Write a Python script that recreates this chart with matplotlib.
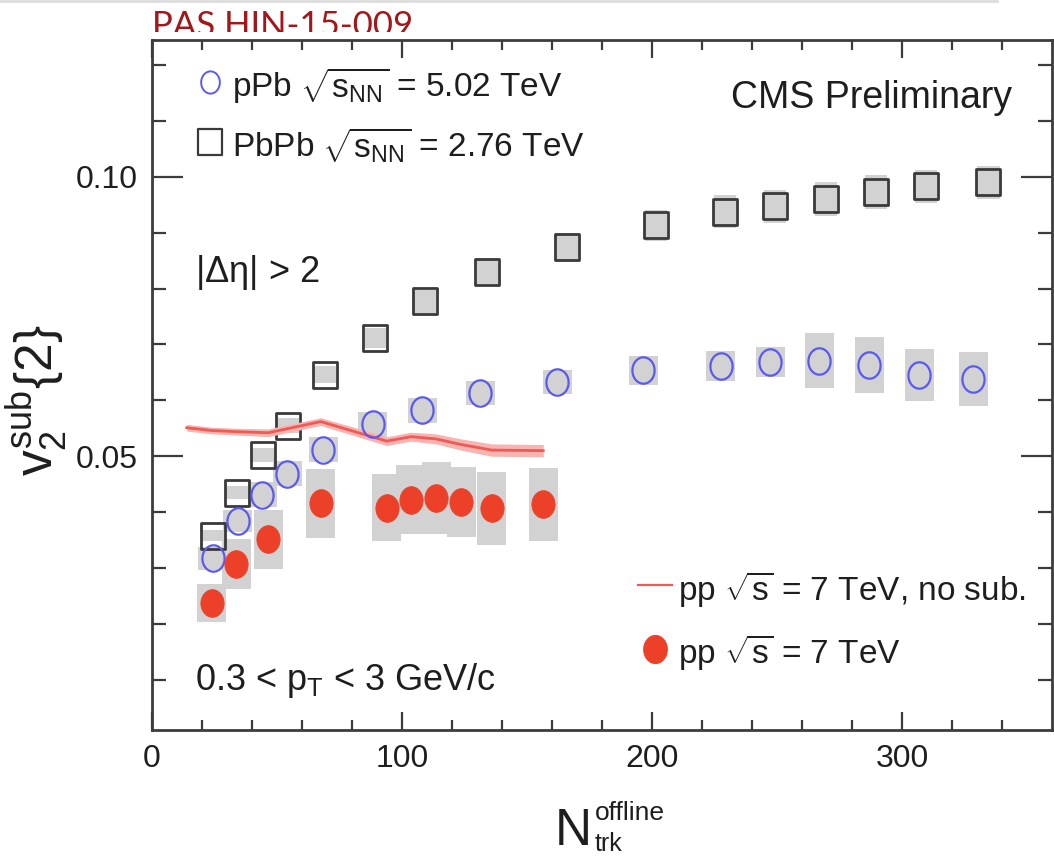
import numpy as np
import matplotlib
matplotlib.use("Agg")
import matplotlib.pyplot as plt
from matplotlib.path import Path
from matplotlib.lines import Line2D
from matplotlib.transforms import Bbox

plt.rcParams['font.family'] = ['Liberation Sans', 'DejaVu Sans']
plt.rcParams['mathtext.fontset'] = 'custom'
plt.rcParams['mathtext.rm'] = 'Liberation Sans'
plt.rcParams['mathtext.it'] = 'Liberation Sans'
plt.rcParams['mathtext.sf'] = 'Liberation Sans'
plt.rcParams['mathtext.bf'] = 'Liberation Sans:bold'

TXT = '#1e1e1e'
GREY_SYS = '#d2d2d2'
BLUE = '#5a5af0'
RED = '#ec4128'

# pPb 5.02 TeV
ppb_n = [24.3, 34.3, 44.1, 54.1, 68.5, 88.3, 108.1, 131.2, 162.1,
         196.5, 227.5, 247.2, 266.9, 286.9, 306.9, 328.5]
ppb_v2 = [0.0317, 0.0384, 0.0431, 0.0469, 0.0512, 0.0557, 0.0582, 0.0613, 0.0633,
          0.0654, 0.0661, 0.0668, 0.0671, 0.0663, 0.0645, 0.0638]
ppb_sys = [0.0020, 0.0020, 0.0022, 0.0023, 0.0023, 0.0022, 0.0022, 0.0022, 0.0022,
           0.0026, 0.0027, 0.0027, 0.0049, 0.0050, 0.0047, 0.0048]

# PbPb 2.76 TeV
pbpb_n = [24.5, 34.1, 44.5, 54.3, 69.0, 89.0, 109.0, 134.0, 166.0,
          201.5, 229.2, 249.2, 269.5, 289.6, 309.5, 334.5]
pbpb_v2 = [0.0358, 0.0435, 0.0502, 0.0555, 0.0646, 0.0712, 0.0777, 0.0830, 0.0875,
           0.0913, 0.0938, 0.0947, 0.0960, 0.0973, 0.0983, 0.0990]
pbpb_sys = [0.0010, 0.0012, 0.0013, 0.0013, 0.0015, 0.0018, 0.0020, 0.0022, 0.0025,
            0.0027, 0.0030, 0.0030, 0.0030, 0.0030, 0.0030, 0.0030]

# pp 7 TeV, subtracted
pp_n = [23.9, 33.6, 46.5, 67.5, 93.9, 103.5, 113.6, 123.6, 135.9, 156.5]
pp_v2 = [0.0238, 0.0307, 0.0351, 0.0416, 0.0408, 0.0422, 0.0425, 0.0418, 0.0407, 0.0414]
pp_sys = [0.0034, 0.0045, 0.0052, 0.0062, 0.0060, 0.0062, 0.0064, 0.0063, 0.0065, 0.0065]

# pp 7 TeV, no subtraction
nosub_n = [13.9, 23.9, 33.9, 46.5, 67.5, 93.9, 103.5, 113.6, 123.6, 135.9, 156.5]
nosub_v2 = [0.0551, 0.0546, 0.0544, 0.0542, 0.0562, 0.0527, 0.0535, 0.0531, 0.0521, 0.0511, 0.0510]
nosub_err = [0.0006, 0.0006, 0.0006, 0.0007, 0.0007, 0.0008, 0.0008, 0.0009, 0.0010, 0.0011, 0.0011]

# markers are a bit taller than wide
t = np.linspace(0, 2 * np.pi, 64)
ELLIPSE = Path(np.column_stack([0.84 * np.cos(t), np.sin(t)]), closed=True)
BOX = Path([(-0.9, -1), (0.9, -1), (0.9, 1), (-0.9, 1), (-0.9, -1)], closed=True)

fig = plt.figure(figsize=(10.54, 8.58), dpi=100)
ax = fig.add_axes([152 / 1054, 128 / 858, 900 / 1054, 690 / 858])

# systematic boxes
def sys_boxes(n, v, s, hw):
    n, v, s = map(np.asarray, (n, v, s))
    ax.bar(n, 2 * s, width=2 * hw, bottom=v - s, color=GREY_SYS, linewidth=0, zorder=1)

sys_boxes(ppb_n, ppb_v2, ppb_sys, 5.8)
sys_boxes(pp_n, pp_v2, pp_sys, 5.8)
sys_boxes(pbpb_n, pbpb_v2, pbpb_sys, 4.5)

ax.plot(pbpb_n, pbpb_v2, linestyle='none', marker=BOX, ms=19, mfc='none',
        mec='#3a3a3a', mew=2.0, zorder=3)

lo = np.array(nosub_v2) - np.array(nosub_err)
hi = np.array(nosub_v2) + np.array(nosub_err)
ax.fill_between(nosub_n, lo, hi, color='#f7b4b0', lw=0, zorder=4)
ax.plot(nosub_n, nosub_v2, color='#ef5a55', lw=2.0, zorder=5)

ax.plot(ppb_n, ppb_v2, linestyle='none', marker=ELLIPSE, ms=19, mfc='none',
        mec=BLUE, mew=1.6, zorder=6)
ax.plot(pp_n, pp_v2, linestyle='none', marker=ELLIPSE, ms=20, mfc=RED,
        mec=RED, mew=0.5, zorder=7)

ax.set_xlim(0, 360)
ax.set_ylim(0.001, 0.1245)
ax.set_xticks([0, 100, 200, 300])
ax.set_xticks(np.arange(20, 360, 20), minor=True)
ax.set_yticks([0.05, 0.10])
ax.set_yticklabels(['0.05', '0.10'])
ax.set_yticks(np.arange(0.01, 0.125, 0.01), minor=True)
for sp in ax.spines.values():
    sp.set_linewidth(2.0)
    sp.set_color('#3c3c3c')
ax.tick_params(which='both', direction='in', top=True, right=True, color='#3c3c3c',
               labelcolor=TXT, labelsize=23, width=1.6)
ax.tick_params(axis='x', which='major', length=13, pad=10)
ax.tick_params(axis='x', which='minor', length=7)
ax.tick_params(axis='y', which='major', length=22, pad=10)
ax.tick_params(axis='y', which='minor', length=10)

tr = ax.transAxes

# x title built from pieces so the script parts stay small next to the big N
ax.text(0.448, -0.167, 'N', transform=tr, fontsize=37, color=TXT, va='baseline')
ax.text(0.492, -0.131, 'offline', transform=tr, fontsize=19, color=TXT, va='baseline')
ax.text(0.492, -0.176, 'trk', transform=tr, fontsize=18, color=TXT, va='baseline')

ax.set_ylabel(r'$v_2^{\rm sub}\{2\}$', fontsize=37, color=TXT)
ax.yaxis.set_label_coords(-0.092, 0.478)

# legend, top left
ax.plot([0.0644], [0.939], transform=tr, linestyle='none', marker=ELLIPSE, ms=16,
        mfc='none', mec=BLUE, mew=1.4, clip_on=False)
ax.text(0.089, 0.917, r'pPb $\sqrt{s_{\rm NN}}$ = 5.02 TeV', transform=tr,
        fontsize=24, color=TXT, va='baseline')
ax.plot([0.0644], [0.852], transform=tr, linestyle='none', marker=BOX, ms=19,
        mfc='none', mec='#3a3a3a', mew=1.6, clip_on=False)
ax.text(0.089, 0.830, r'PbPb $\sqrt{s_{\rm NN}}$ = 2.76 TeV', transform=tr,
        fontsize=24, color=TXT, va='baseline')

ax.text(0.9556, 0.901, 'CMS Preliminary', transform=tr, fontsize=27, color=TXT,
        ha='right', va='baseline')
ax.text(0.048, 0.649, r'|$\Delta\eta$| > 2', transform=tr, fontsize=26, color=TXT,
        va='baseline')
ax.text(0.048, 0.058, r'0.3 < p$_{\rm T}$ < 3 GeV/c', transform=tr, fontsize=26,
        color=TXT, va='baseline')

# legend, bottom right
ax.plot([0.540, 0.578], [0.210, 0.210], transform=tr, color='#ef5a55', lw=1.6)
ax.text(0.585, 0.188, r'pp $\sqrt{s}$ = 7 TeV, no sub.', transform=tr, fontsize=24,
        color=TXT, va='baseline')
ax.plot([0.559], [0.117], transform=tr, linestyle='none', marker=ELLIPSE, ms=20,
        mfc=RED, mec=RED)
ax.text(0.585, 0.097, r'pp $\sqrt{s}$ = 7 TeV', transform=tr, fontsize=24,
        color=TXT, va='baseline')

# document tag above the frame, bottom of the glyphs cut off
tag = fig.text(152 / 1054, 1 - 36 / 858, 'PAS HIN-15-009', family='Lato', fontsize=25,
               color='#a3161a', va='baseline')
tag.set_clip_box(Bbox.from_extents(0, 858 - 32, 1054, 858))
tag.set_clip_on(True)
fig.add_artist(Line2D([0, 997 / 1054], [1 - 1 / 858, 1 - 1 / 858], color='#dddddd', lw=2))

fig.savefig('out.png', dpi=100)
